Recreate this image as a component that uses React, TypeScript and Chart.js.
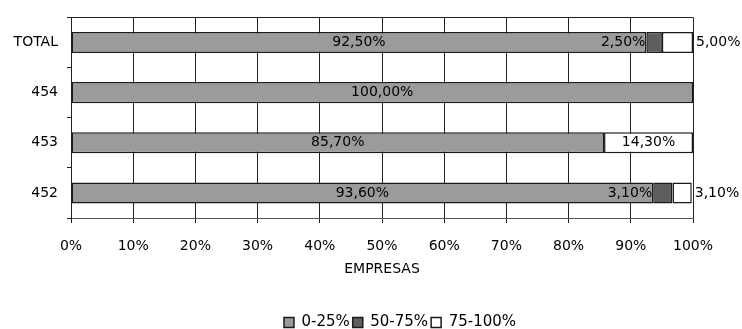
import React, { useEffect, useRef } from 'react';
import { Chart, registerables } from 'chart.js';

Chart.register(...registerables);

const categories = ['TOTAL', '454', '453', '452'];
const seriesNames = ['0-25%', '50-75%', '75-100%'];
const values0to25 = [92.5, 100, 85.7, 93.6];
const values50to75 = [2.5, 0, 0, 3.1];
const values75to100 = [5.0, 0, 14.3, 3.1];
const xTickMin = 0;
const xTickMax = 100;
const xTickStep = 10;
const axisTitle = 'EMPRESAS';

const FONT = '"DejaVu Sans", Verdana, sans-serif';

const fmt = (v: number) => v.toFixed(2).replace('.', ',') + '%';

const labelPlugin = {
  id: 'barLabels',
  afterDatasetsDraw(chart: any) {
    const ctx = chart.ctx;
    ctx.save();
    ctx.font = `14px ${FONT}`;
    ctx.fillStyle = '#000';
    ctx.textBaseline = 'middle';
    chart.data.datasets.forEach((ds: any, i: number) => {
      const meta = chart.getDatasetMeta(i);
      meta.data.forEach((bar: any, j: number) => {
        const v = ds.data[j];
        if (!v) return;
        const { x, base, y } = bar.getProps(['x', 'base', 'y'], true);
        const txt = fmt(v);
        const w = ctx.measureText(txt).width;
        const left = Math.min(x, base);
        const right = Math.max(x, base);
        if (i === 0) {
          ctx.textAlign = 'center';
          ctx.fillText(txt, (left + right) / 2, y);
        } else if (i === 1) {
          ctx.textAlign = 'right';
          ctx.fillText(txt, left - 1, y);
        } else {
          if (right - left > w + 6) {
            ctx.textAlign = 'center';
            ctx.fillText(txt, (left + right) / 2, y);
          } else {
            ctx.textAlign = 'left';
            ctx.fillText(txt, right + 3, y);
          }
        }
      });
    });
    ctx.restore();
  },
};

export default function App() {
  const ref = useRef<HTMLCanvasElement | null>(null);
  useEffect(() => {
    if (!ref.current) return;
    const chart = new Chart(ref.current, {
      type: 'bar',
      data: {
        labels: categories,
        datasets: [
          {
            label: seriesNames[0],
            data: values0to25,
            backgroundColor: '#9b9b9b',
            borderColor: '#1a1a1a',
            borderWidth: 1.5,
            borderSkipped: false,
          },
          {
            label: seriesNames[1],
            data: values50to75,
            backgroundColor: '#5e5e5e',
            borderColor: '#1a1a1a',
            borderWidth: 1.5,
            borderSkipped: false,
          },
          {
            label: seriesNames[2],
            data: values75to100,
            backgroundColor: '#ffffff',
            borderColor: '#1a1a1a',
            borderWidth: 1.5,
            borderSkipped: false,
          },
        ],
      },
      options: {
        indexAxis: 'y',
        animation: false,
        responsive: true,
        maintainAspectRatio: false,
        datasets: {
          bar: { barPercentage: 0.42, categoryPercentage: 1 },
        },
        layout: { padding: { left: 6, right: -52, top: 15, bottom: -11 } },
        scales: {
          x: {
            stacked: true,
            min: xTickMin,
            max: xTickMax,
            ticks: {
              stepSize: xTickStep,
              color: '#000',
              padding: 15,
              font: { family: FONT, size: 14 },
              callback: (v: any) => v + '%',
            },
            grid: { color: '#222', lineWidth: 1, tickLength: 5, tickColor: '#222' },
            border: { display: true, color: '#555' },
            title: {
              display: true,
              text: axisTitle,
              color: '#000',
              font: { family: FONT, size: 14 },
              padding: { top: 0, bottom: 34 },
            },
            afterFit: (s: any) => {
              s.height = 94;
            },
          },
          y: {
            stacked: true,
            position: 'left',
            ticks: { color: '#000', padding: 9, font: { family: FONT, size: 14 } },
            grid: {
              offset: true,
              color: (c: any) => (c.index === 0 ? '#222' : 'rgba(0,0,0,0)'),
              tickColor: '#222',
              tickLength: 4,
            },
            border: { display: true, color: '#222' },
            afterFit: (s: any) => {
              s.width = 65;
            },
          },
          yRight: {
            type: 'category',
            position: 'right',
            display: true,
            grid: { display: false, drawTicks: false },
            ticks: { display: false },
            border: { display: false },
            afterFit: (s: any) => {
              s.width = 101;
            },
          },
        },
        plugins: {
          legend: {
            position: 'bottom',
            labels: {
              boxWidth: 10,
              boxHeight: 10,
              padding: 3,
              color: '#000',
              font: { family: FONT, size: 15 },
            },
          },
          tooltip: { enabled: false },
        },
      },
      plugins: [labelPlugin],
    });
    return () => chart.destroy();
  }, []);
  return (
    <div style={{ position: 'fixed', left: 0, top: 0, width: 742, height: 329, background: '#fff' }}>
      <canvas ref={ref} />
    </div>
  );
}
